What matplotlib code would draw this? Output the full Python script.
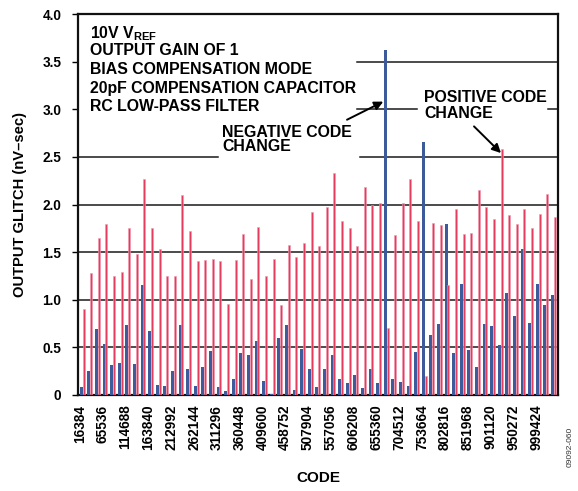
import matplotlib
matplotlib.use("Agg")
import matplotlib.pyplot as plt
import numpy as np

plt.rcParams["font.family"] = ["Liberation Sans", "DejaVu Sans"]
plt.rcParams["font.weight"] = "bold"
plt.rcParams["mathtext.fontset"] = "custom"
plt.rcParams["mathtext.rm"] = "Liberation Sans:bold"
plt.rcParams["mathtext.it"] = "Liberation Sans:bold"
plt.rcParams["mathtext.bf"] = "Liberation Sans:bold"

# Glitch impulse per code step (nV-sec); codes are 16384 apart
neg_glitch = [0.08, 0.25, 0.69, 0.54, 0.31, 0.34, 0.73, 0.33, 1.16, 0.67,
              0.11, 0.09, 0.25, 0.73, 0.27, 0.09, 0.29, 0.46, 0.08, 0.04,
              0.17, 0.44, 0.42, 0.57, 0.15, 0.01, 0.60, 0.74, 0.05, 0.48,
              0.27, 0.08, 0.27, 0.42, 0.17, 0.13, 0.21, 0.07, 0.27, 0.13,
              3.62, 0.17, 0.14, 0.09, 0.45, 2.66, 0.63, 0.75, 1.80, 0.44,
              1.17, 0.47, 0.29, 0.75, 0.72, 0.53, 1.07, 0.83, 1.53, 0.76,
              1.17, 0.94, 1.05]
pos_glitch = [0.90, 1.28, 1.65, 1.80, 1.25, 1.29, 1.75, 1.48, 2.27, 1.75,
              1.53, 1.25, 1.25, 2.10, 1.72, 1.41, 1.42, 1.43, 1.41, 0.96,
              1.42, 1.69, 1.22, 1.76, 1.25, 1.43, 0.94, 1.57, 1.45, 1.60,
              1.92, 1.56, 1.97, 2.33, 1.83, 1.75, 1.56, 2.18, 1.99, 2.02,
              0.70, 1.68, 2.02, 2.27, 1.83, 0.20, 1.81, 1.78, 1.15, 1.95,
              1.69, 1.70, 2.15, 1.97, 1.85, 2.58, 1.89, 1.80, 1.95, 1.75,
              1.90, 2.11, 1.87]
code_labels = ["16384", "65536", "114688", "163840", "212992", "262144",
               "311296", "360448", "409600", "458752", "507904", "557056",
               "606208", "655360", "704512", "753664", "802816", "851968",
               "901120", "950272", "999424"]
label_step = 3

blue = "#3d5b9b"
red = "#e53b5c"

fig = plt.figure(figsize=(5.78, 4.91), dpi=100)
ax = fig.add_axes([78 / 578, 1 - 395 / 491, 480 / 578, 381 / 491])

idx = np.arange(len(neg_glitch))
ax.bar(idx - 0.14, neg_glitch, width=0.39, color=blue, zorder=3, linewidth=0)
ax.bar(idx + 0.18, pos_glitch, width=0.26, color=red, zorder=3,
       edgecolor="#f39aae", linewidth=0.4)

ax.set_xlim(-0.566, 62.59)
ax.set_ylim(0, 4.0)

# horizontal grid, with gaps where the annotation text sits
grid_kw = dict(color="#1a1a1a", lw=1.1, zorder=1)
for y in (0.5, 1.0, 1.5, 2.0):
    ax.axhline(y, **grid_kw)
ax.axhline(2.5, xmin=0.0, xmax=0.292, **grid_kw)
ax.axhline(2.5, xmin=0.588, xmax=1.0, **grid_kw)
ax.axhline(3.0, xmin=0.581, xmax=0.706, **grid_kw)
ax.axhline(3.0, xmin=0.979, xmax=1.0, **grid_kw)
ax.axhline(3.5, xmin=0.581, xmax=1.0, **grid_kw)

ax.set_yticks(np.arange(0, 4.01, 0.5))
ax.set_yticklabels(["0", "0.5", "1.0", "1.5", "2.0", "2.5", "3.0", "3.5", "4.0"],
                   fontsize=9.8, fontweight="bold")
ax.set_xticks(idx[::label_step] - 0.3)
ax.set_xticklabels(code_labels, rotation=90, fontsize=9.8, fontweight="bold")
ax.tick_params(axis="x", length=0, pad=7)
ax.tick_params(axis="y", length=4, width=1.0, pad=8, direction="out")

for s in ax.spines.values():
    s.set_linewidth(1.6)
    s.set_color("#111111")

ax.set_xlabel("CODE", fontsize=11, fontweight="bold", labelpad=15)
ax.set_ylabel("OUTPUT GLITCH (nV–sec)", fontsize=10.6, fontweight="bold",
              labelpad=11)

# test conditions
txt_size = 11.4
cond = ["10V V$_{REF}$", "OUTPUT GAIN OF 1", "BIAS COMPENSATION MODE",
        "20pF COMPENSATION CAPACITOR", "RC LOW-PASS FILTER"]
cond_y = [0.937, 0.892, 0.8425, 0.7927, 0.7454]
for t, y in zip(cond, cond_y):
    ax.text(0.025, y, t, transform=ax.transAxes, fontsize=txt_size,
            fontweight="bold", va="baseline", ha="left")

ax.text(0.30, 0.677, "NEGATIVE CODE", transform=ax.transAxes,
        fontsize=txt_size, fontweight="bold", va="baseline")
ax.text(0.30, 0.640, "CHANGE", transform=ax.transAxes, fontsize=txt_size,
        fontweight="bold", va="baseline")
ax.text(0.721, 0.769, "POSITIVE CODE", transform=ax.transAxes,
        fontsize=txt_size, fontweight="bold", va="baseline")
ax.text(0.721, 0.727, "CHANGE", transform=ax.transAxes, fontsize=txt_size,
        fontweight="bold", va="baseline")

arrow = dict(arrowstyle="-|>", color="black", lw=1.4, mutation_scale=13,
             shrinkA=0, shrinkB=0)
ax.annotate("", xy=(39.6, 3.08), xytext=(34.83, 2.89), arrowprops=arrow,
            zorder=4)
ax.annotate("", xy=(55.09, 2.54), xytext=(51.54, 2.82), arrowprops=arrow,
            zorder=4)

fig.text(570 / 578, 1 - 447 / 491, "09092-060", rotation=90, fontsize=6,
         fontweight="normal", color="#333333", ha="center", va="center")

fig.savefig("out.png", dpi=100)
